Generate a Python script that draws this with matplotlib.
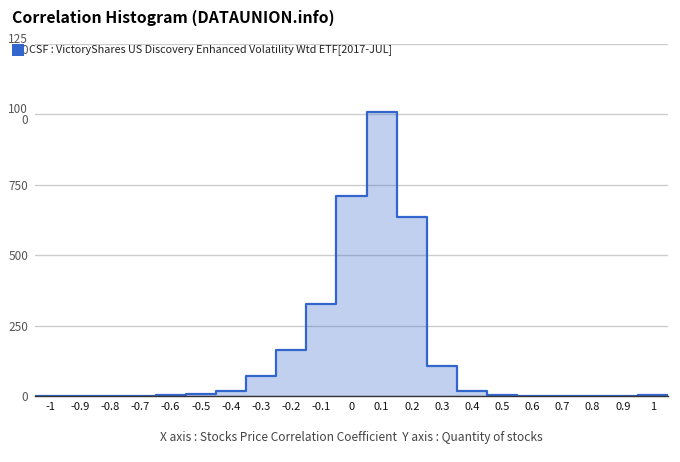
import numpy as np
import matplotlib
matplotlib.use("Agg")
import matplotlib.pyplot as plt
from matplotlib.patches import Rectangle

plt.rcParams['font.family'] = ['Noto Sans CJK KR', 'DejaVu Sans']

# ---- data ----
centers = [-1.0, -0.9, -0.8, -0.7, -0.6, -0.5, -0.4, -0.3, -0.2, -0.1, 0.0,
           0.1, 0.2, 0.3, 0.4, 0.5, 0.6, 0.7, 0.8, 0.9, 1.0]
counts = [0, 0, 0, 0, 2, 8, 18, 70, 162, 325, 709,
          1010, 634, 106, 17, 3, 0, 0, 0, 0, 2]
xtick_vals = [-1, -0.9, -0.8, -0.7, -0.6, -0.5, -0.4, -0.3, -0.2, -0.1, 0,
              0.1, 0.2, 0.3, 0.4, 0.5, 0.6, 0.7, 0.8, 0.9, 1]
xtick_labels = ['-1', '-0.9', '-0.8', '-0.7', '-0.6', '-0.5', '-0.4', '-0.3', '-0.2', '-0.1', '0',
                '0.1', '0.2', '0.3', '0.4', '0.5', '0.6', '0.7', '0.8', '0.9', '1']
ytick_vals = [0, 250, 500, 750, 1000, 1250]
ytick_labels = ['0', '250', '500', '750', '100\n0', '125\n0']
title = 'Correlation Histogram (DATAUNION.info)'
series_name = 'CSF : VictoryShares US Discovery Enhanced Volatility Wtd ETF[2017-JUL]'
axis_note = 'X axis : Stocks Price Correlation Coefficient  Y axis : Quantity of stocks'

color = '#3366cc'
W, H = 680, 462
fig = plt.figure(figsize=(W / 100, H / 100), dpi=100)
ax = fig.add_axes([35 / W, (H - 396) / H, 633 / W, 352 / H])

c = np.array(centers)
edges = np.concatenate([c - 0.05, [c[-1] + 0.05]])
ax.stairs(counts, edges, fill=True, color=color, alpha=0.3, linewidth=0, zorder=2)
ax.stairs(counts, edges, color=color, linewidth=1.6, zorder=3,
          joinstyle='round', baseline=None)

ax.set_xlim(-1.05, 1.05)
ax.set_ylim(0, 1250)
ax.set_xticks(xtick_vals)
ax.set_xticklabels(xtick_labels, fontsize=8, color='#111111')
ax.set_yticks(ytick_vals)
ax.set_yticklabels(ytick_labels, fontsize=8.5, color='#555555', linespacing=0.85)
ax.tick_params(axis='both', length=0)
ax.tick_params(axis='x', pad=4)
ax.tick_params(axis='y', pad=5)
ax.grid(axis='y', color='#cccccc', linewidth=1)
ax.set_axisbelow(True)
for s in ['top', 'right', 'left']:
    ax.spines[s].set_visible(False)
ax.spines['bottom'].set_color('#333333')
ax.spines['bottom'].set_linewidth(1)
ax.spines['bottom'].set_zorder(4)

fig.text(12 / W, 1 - 18 / H, title, fontsize=11.4, fontweight='bold', color='#000000',
         ha='left', va='center')
fig.patches.append(Rectangle((12 / W, 1 - 56 / H), 12 / W, 12 / H, transform=fig.transFigure,
                             facecolor=color, edgecolor='none', zorder=5))
fig.text(29 / W, 1 - 50 / H, series_name, fontsize=7.8, color='#222222', ha='left', va='center')
fig.text(351 / W, 1 - 437 / H, axis_note, fontsize=8.6, color='#444444', ha='center', va='center')

fig.savefig('out.png', dpi=100, facecolor='white')
